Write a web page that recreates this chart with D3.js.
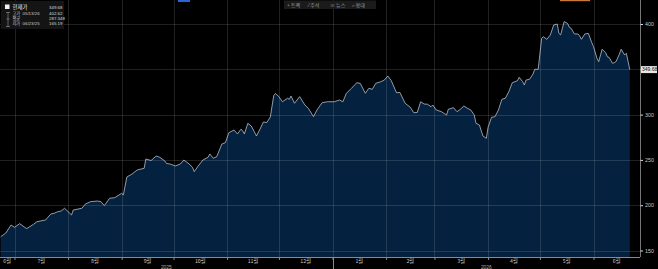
<!DOCTYPE html>
<html>
<head>
<meta charset="utf-8">
<script src="https://cdn.jsdelivr.net/npm/d3@7"></script>
<style>
  html, body { margin: 0; padding: 0; background: #000; }
  svg { display: block; font-family: "Noto Sans CJK KR", "Noto Sans", sans-serif; }
</style>
</head>
<body>
<script>
// closing prices
var dates = [
  "2025-06-23","2025-06-26","2025-06-29",
  "2025-07-01","2025-07-04","2025-07-08","2025-07-12","2025-07-14","2025-07-19","2025-07-22","2025-07-24","2025-07-26","2025-07-28","2025-07-30",
  "2025-08-03","2025-08-04","2025-08-09","2025-08-11","2025-08-14","2025-08-18","2025-08-20","2025-08-22","2025-08-25","2025-08-28",
  "2025-09-01","2025-09-02","2025-09-04","2025-09-07","2025-09-10","2025-09-14","2025-09-15","2025-09-18","2025-09-21","2025-09-23","2025-09-26","2025-09-27","2025-09-29",
  "2025-10-02","2025-10-05","2025-10-07","2025-10-10","2025-10-12","2025-10-13","2025-10-15","2025-10-18","2025-10-21","2025-10-22","2025-10-24","2025-10-26","2025-10-29","2025-10-31",
  "2025-11-02","2025-11-05","2025-11-07","2025-11-09","2025-11-10","2025-11-11","2025-11-13","2025-11-15","2025-11-18","2025-11-20","2025-11-22","2025-11-24","2025-11-26","2025-11-28","2025-11-29",
  "2025-12-01","2025-12-03","2025-12-06","2025-12-07","2025-12-08","2025-12-10","2025-12-13","2025-12-16","2025-12-18","2025-12-21","2025-12-23","2025-12-26","2025-12-29",
  "2026-01-02","2026-01-05","2026-01-07","2026-01-09","2026-01-12","2026-01-15","2026-01-17","2026-01-20","2026-01-22","2026-01-24","2026-01-26","2026-01-29","2026-01-31",
  "2026-02-02","2026-02-04","2026-02-07","2026-02-09","2026-02-12","2026-02-15","2026-02-17","2026-02-19","2026-02-21","2026-02-23","2026-02-25","2026-02-27","2026-02-28",
  "2026-03-02","2026-03-05","2026-03-08","2026-03-09","2026-03-12","2026-03-14","2026-03-16","2026-03-18","2026-03-20","2026-03-22","2026-03-24","2026-03-25","2026-03-27","2026-03-29","2026-03-31",
  "2026-04-01","2026-04-03","2026-04-05","2026-04-07","2026-04-09","2026-04-11","2026-04-13","2026-04-15","2026-04-18","2026-04-19","2026-04-21","2026-04-22","2026-04-23","2026-04-25","2026-04-27","2026-04-28","2026-04-30",
  "2026-05-02","2026-05-03","2026-05-05","2026-05-07","2026-05-09","2026-05-11","2026-05-12","2026-05-13","2026-05-15","2026-05-17","2026-05-18","2026-05-19","2026-05-21","2026-05-23","2026-05-24","2026-05-25","2026-05-27","2026-05-29","2026-05-31",
  "2026-06-01","2026-06-03","2026-06-04","2026-06-06","2026-06-08","2026-06-09","2026-06-10","2026-06-12","2026-06-13","2026-06-14","2026-06-16","2026-06-17","2026-06-19","2026-06-20","2026-06-22"
];
var values = [
  165.19,169.3,178.1,
  175.6,179.6,174.1,178.9,181.8,183.7,190.3,191.1,192.8,193.6,196.6,
  189.2,194.7,196.6,201.3,203.9,204.6,203.9,199.5,207.6,208.3,
  213.1,211.3,231.1,234.4,238.9,240.7,251.0,249.3,254.3,252.9,248.8,246.0,245.5,
  243.3,245.5,249.9,245.5,241.8,237.0,242.5,249.9,252.9,256.5,251.8,253.5,267.6,269.0,
  280.0,283.0,278.6,283.8,282.2,278.6,290.4,287.4,276.4,283.8,291.8,291.3,297.3,321.1,323.3,
  319.8,314.2,318.0,316.9,320.5,312.5,319.8,310.6,307.0,297.7,305.1,313.1,314.2,
  314.2,316.1,314.2,323.5,329.0,335.2,334.5,323.5,329.0,327.9,334.5,336.3,338.2,
  342.6,337.4,324.2,324.4,312.5,308.1,302.1,302.3,314.2,311.7,311.4,308.7,310.6,
  305.1,303.2,299.6,305.9,307.6,303.2,305.9,309.5,307.0,305.1,299.6,290.4,288.5,276.4,273.8,
  286.0,297.0,297.7,305.1,316.9,318.0,325.3,335.2,337.4,341.2,336.3,332.7,338.2,339.0,344.8,350.0,350.0,
  384.2,386.0,383.1,387.9,398.9,400.0,389.7,387.9,402.62,400.6,396.4,395.3,389.0,389.0,386.8,383.1,389.0,389.7,379.4,
  375.0,362.1,358.4,372.1,368.3,363.9,363.2,356.6,357.3,358.4,366.9,372.1,365.8,367.7,349.68
];

var yTicks = [150, 200, 250, 300, 350, 400];
var lastPrice = "349.68";

var legendLabels = ["현재가", "고가", "평균", "저가"];
var legendDates = ["", "05/13/26", "", "06/23/25"];
var legendValues = ["349.68", "402.62", "287.348", "165.19"];

var toolbarItems = ["+ 트랙", "⁄ 주석", "≡ 뉴스", "⌕ 확대"];

var W = 658, H = 269,
    plotRight = 640, plotBottom = 257;

var parse = d3.timeParse("%Y-%m-%d");
var data = dates.map(function(d, i) { return {date: parse(d), value: values[i]}; });

var x = d3.scaleTime()
    .domain([new Date(2025, 6, 1), new Date(2026, 5, 1)])
    .range([14.5, 593.5]);
var start = x.invert(0), end = x.invert(plotRight);

var y = d3.scaleLinear()
    .domain([150, 400])
    .range([250.5, 24]);

var svg = d3.select("body").append("svg")
    .attr("width", W)
    .attr("height", H);

svg.append("rect").attr("width", W).attr("height", H).attr("fill", "#000");

// area + line
var area = d3.area()
    .x(function(d) { return x(d.date); })
    .y0(plotBottom)
    .y1(function(d) { return y(d.value); });

var line = d3.line()
    .x(function(d) { return x(d.date); })
    .y(function(d) { return y(d.value); });

svg.append("path")
    .datum(data)
    .attr("d", area)
    .attr("fill", "#04213f");

// grid
var monthStarts = d3.timeMonth.range(start, end);

svg.append("g").selectAll("line")
    .data(yTicks)
    .enter().append("line")
    .attr("x1", 0).attr("x2", plotRight)
    .attr("y1", function(d) { return Math.round(y(d)) + 0.5; })
    .attr("y2", function(d) { return Math.round(y(d)) + 0.5; })
    .attr("stroke", "#fff").attr("stroke-opacity", 0.13);

svg.append("g").selectAll("line")
    .data(monthStarts)
    .enter().append("line")
    .attr("x1", function(d) { return Math.round(x(d)) + 0.5; })
    .attr("x2", function(d) { return Math.round(x(d)) + 0.5; })
    .attr("y1", 0).attr("y2", plotBottom)
    .attr("stroke", "#fff").attr("stroke-opacity", 0.13);

svg.append("path")
    .datum(data)
    .attr("d", line)
    .attr("fill", "none")
    .attr("stroke", "#c2c8d0")
    .attr("stroke-width", 0.75);

// top strip marks
svg.append("rect").attr("x", 178).attr("y", 0).attr("width", 12).attr("height", 2).attr("fill", "#2a64d8");
svg.append("rect").attr("x", 560).attr("y", 0).attr("width", 30).attr("height", 1.2).attr("fill", "#c8793a");

// toolbar
svg.append("rect").attr("x", 284).attr("y", 0.5).attr("width", 92).attr("height", 8.5).attr("fill", "#1b1b1b");
svg.append("g").selectAll("text")
    .data(toolbarItems)
    .enter().append("text")
    .attr("x", function(d, i) { return 287 + i * 21.5; })
    .attr("y", 6.8)
    .attr("font-size", 5)
    .attr("fill", "#a0a0a0")
    .text(function(d) { return d; });

// y axis on the right
var yAxis = svg.append("g")
    .attr("transform", "translate(" + (plotRight + 0.5) + ",0)")
    .call(d3.axisRight(y).tickValues(yTicks).tickSize(2.5).tickPadding(2));
yAxis.select(".domain").attr("d", "M0,0V" + plotBottom).attr("stroke", "#777");
yAxis.selectAll(".tick line").attr("stroke", "#ddd");
yAxis.selectAll(".tick text")
    .attr("font-size", 5.3)
    .attr("fill", "#c8c8c8")
    .attr("font-family", "Liberation Sans, Arial, sans-serif");
// the last-price tag covers the label it sits on
yAxis.selectAll(".tick")
    .filter(function(d) { return Math.abs(y(d) - y(values[values.length - 1])) < 6; })
    .select("text").remove();

// last price tag
svg.append("rect")
    .attr("x", plotRight + 1).attr("y", y(values[values.length - 1]) - 3.5)
    .attr("width", 16).attr("height", 7)
    .attr("fill", "#e6e6e6");
svg.append("text")
    .attr("x", plotRight + 2).attr("y", y(values[values.length - 1]) + 1.8)
    .attr("font-size", 5)
    .attr("fill", "#111")
    .attr("font-family", "Liberation Sans, Arial, sans-serif")
    .text(lastPrice);

// x axis at the bottom
var xAxis = svg.append("g")
    .attr("transform", "translate(0," + (plotBottom + 0.5) + ")")
    .call(d3.axisBottom(x).tickValues(monthStarts).tickSize(2.5).tickFormat(""));
xAxis.select(".domain").attr("d", "M0,0H" + plotRight).attr("stroke", "#8a8a8a");
xAxis.selectAll(".tick line").attr("stroke", "#8a8a8a");

var months = d3.timeMonth.range(d3.timeMonth.floor(start), end);
svg.append("g").selectAll("text")
    .data(months)
    .enter().append("text")
    .attr("x", function(d) {
      var a = d < start ? start : d,
          b = d3.timeMonth.offset(d, 1) > end ? end : d3.timeMonth.offset(d, 1);
      return (x(a) + x(b)) / 2;
    })
    .attr("y", 263)
    .attr("text-anchor", "middle")
    .attr("font-size", 5.3)
    .attr("fill", "#c8c8c8")
    .text(function(d) { return (d.getMonth() + 1) + "월"; });

var years = d3.timeYear.range(d3.timeYear.floor(start), end);
svg.append("g").selectAll("text")
    .data(years)
    .enter().append("text")
    .attr("x", function(d) {
      var a = d < start ? start : d,
          b = d3.timeYear.offset(d, 1) > end ? end : d3.timeYear.offset(d, 1);
      return (x(a) + x(b)) / 2;
    })
    .attr("y", 268.5)
    .attr("text-anchor", "middle")
    .attr("font-size", 4.8)
    .attr("fill", "#b0b0b0")
    .attr("font-family", "Liberation Sans, Arial, sans-serif")
    .text(function(d) { return d.getFullYear(); });

// year separator
svg.append("g").selectAll("line")
    .data(d3.timeYear.range(start, end))
    .enter().append("line")
    .attr("x1", function(d) { return Math.round(x(d)) + 0.5; })
    .attr("x2", function(d) { return Math.round(x(d)) + 0.5; })
    .attr("y1", plotBottom).attr("y2", H)
    .attr("stroke", "#8a8a8a");

// legend box
var legend = svg.append("g");
legend.append("rect").attr("x", 1).attr("y", 1).attr("width", 63).attr("height", 28).attr("fill", "#141414");
legend.append("rect").attr("x", 5).attr("y", 4.5).attr("width", 4.5).attr("height", 4.5).attr("fill", "#f2f2f2");

var rowY = [8.6, 15.4, 20.4, 25.4];

legend.selectAll(".lab")
    .data(legendLabels)
    .enter().append("text")
    .attr("class", "lab")
    .attr("x", 12.5)
    .attr("y", function(d, i) { return rowY[i]; })
    .attr("font-size", function(d, i) { return i === 0 ? 5.4 : 4.2; })
    .attr("fill", function(d, i) { return i === 0 ? "#f0f0f0" : "#c8c8c8"; })
    .text(function(d) { return d; });

legend.selectAll(".dt")
    .data(legendDates)
    .enter().append("text")
    .attr("class", "dt")
    .attr("x", 22.5)
    .attr("y", function(d, i) { return rowY[i]; })
    .attr("font-size", 4.4)
    .attr("fill", "#c8c8c8")
    .attr("font-family", "Liberation Sans, Arial, sans-serif")
    .text(function(d) { return d; });

legend.selectAll(".val")
    .data(legendValues)
    .enter().append("text")
    .attr("class", "val")
    .attr("x", 49)
    .attr("y", function(d, i) { return rowY[i]; })
    .attr("font-size", 4.4)
    .attr("fill", "#d8d8d8")
    .attr("font-family", "Liberation Sans, Arial, sans-serif")
    .text(function(d) { return d; });

// small range glyphs next to the rows
legend.append("path")
    .attr("d", "M6,12.5H10M8,12.5V26.5M6,26.5H10M6.5,19H9.5")
    .attr("stroke", "#9a9a9a")
    .attr("stroke-width", 0.6)
    .attr("fill", "none");
</script>
</body>
</html>
